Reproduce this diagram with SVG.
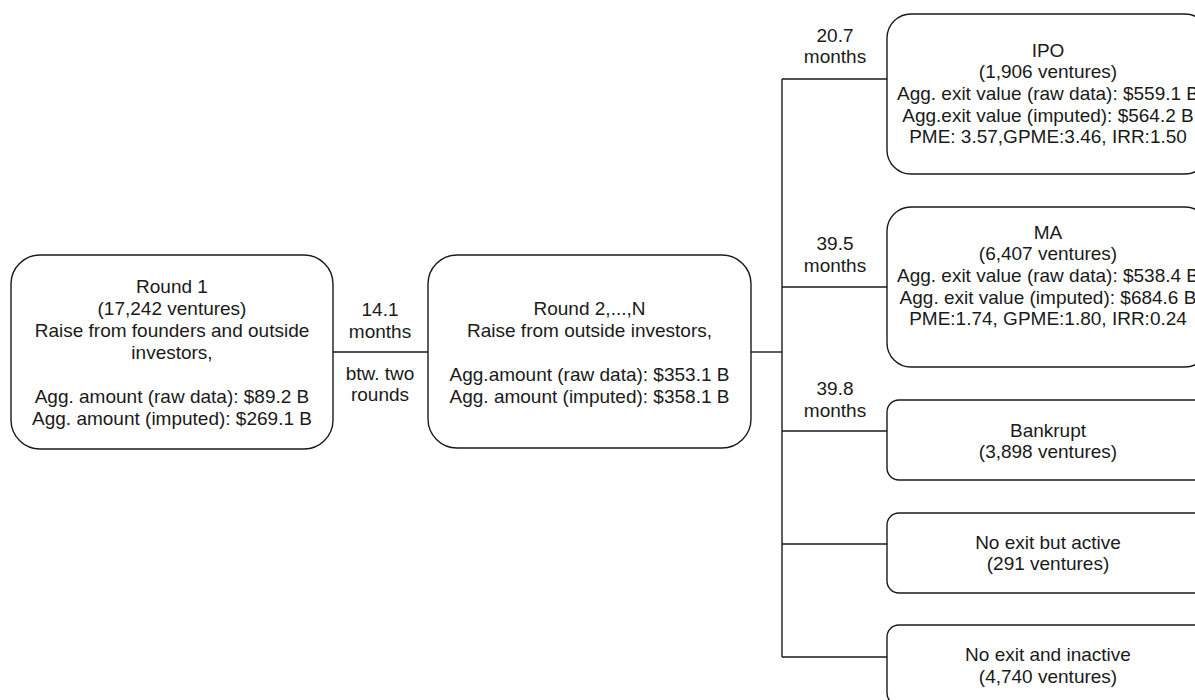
<svg xmlns="http://www.w3.org/2000/svg" width="1195" height="700" viewBox="0 0 1195 700">
<style>
.box{fill:#fff;stroke:#1a1a1a;stroke-width:1.4}
.ln{fill:none;stroke:#1a1a1a;stroke-width:1.4}
text{font-family:"Liberation Sans",Arial,sans-serif;font-size:19px;fill:#1a1a1a;text-anchor:middle}
</style>
<rect width="1195" height="700" fill="#fff"/>
<g id="connectors">
<path class="ln" d="M333 352H428"/>
<path class="ln" d="M751 352H782"/>
<path class="ln" d="M782 79V657"/>
<path class="ln" d="M782 79H887"/>
<path class="ln" d="M782 287H887"/>
<path class="ln" d="M782 431H887"/>
<path class="ln" d="M782 544H887"/>
<path class="ln" d="M782 657H887"/>
<text x="380" y="316">14.1</text>
<text x="380" y="337.5">months</text>
<text x="380" y="380">btw. two</text>
<text x="380" y="401">rounds</text>
<text x="835" y="41.5">20.7</text>
<text x="835" y="63.3">months</text>
<text x="835" y="250">39.5</text>
<text x="835" y="271.7">months</text>
<text x="835" y="395">39.8</text>
<text x="835" y="416.7">months</text>
</g>
<g id="round1">
<rect class="box" x="11" y="255" width="322" height="194" rx="29"/>
<text x="172" y="292.5">Round 1</text>
<text x="172" y="314.5">(17,242 ventures)</text>
<text x="172" y="336.5">Raise from founders and outside</text>
<text x="172" y="358.5">investors,</text>
<text x="172" y="402.5">Agg. amount (raw data): $89.2 B</text>
<text x="172" y="424.5">Agg. amount (imputed): $269.1 B</text>
</g>
<g id="round2">
<rect class="box" x="428" y="255" width="323" height="193" rx="29"/>
<text x="589.5" y="314.5">Round 2,...,N</text>
<text x="589.5" y="336.5">Raise from outside investors,</text>
<text x="589.5" y="380.5">Agg.amount (raw data): $353.1 B</text>
<text x="589.5" y="402.5">Agg. amount (imputed): $358.1 B</text>
</g>
<g id="ipo">
<rect class="box" x="887" y="14" width="322" height="160" rx="24"/>
<text x="1048" y="56.5">IPO</text>
<text x="1048" y="78.3">(1,906 ventures)</text>
<text x="1048" y="100">Agg. exit value (raw data): $559.1 B</text>
<text x="1048" y="121.7">Agg.exit value (imputed): $564.2 B</text>
<text x="1048" y="143.4">PME: 3.57,GPME:3.46, IRR:1.50</text>
</g>
<g id="ma">
<rect class="box" x="887" y="207" width="322" height="160" rx="24"/>
<text x="1048" y="238.5">MA</text>
<text x="1048" y="260.2">(6,407 ventures)</text>
<text x="1048" y="281.9">Agg. exit value (raw data): $538.4 B</text>
<text x="1048" y="303.6">Agg. exit value (imputed): $684.6 B</text>
<text x="1048" y="325.3">PME:1.74, GPME:1.80, IRR:0.24</text>
</g>
<g id="bankrupt">
<rect class="box" x="887" y="400" width="322" height="80" rx="12"/>
<text x="1048" y="436.7">Bankrupt</text>
<text x="1048" y="458.4">(3,898 ventures)</text>
</g>
<g id="active">
<rect class="box" x="887" y="513" width="322" height="80" rx="12"/>
<text x="1048" y="548.5">No exit but active</text>
<text x="1048" y="570.2">(291 ventures)</text>
</g>
<g id="inactive">
<rect class="box" x="887" y="625" width="322" height="80" rx="12"/>
<text x="1048" y="660.5">No exit and inactive</text>
<text x="1048" y="682.5">(4,740 ventures)</text>
</g>
</svg>
